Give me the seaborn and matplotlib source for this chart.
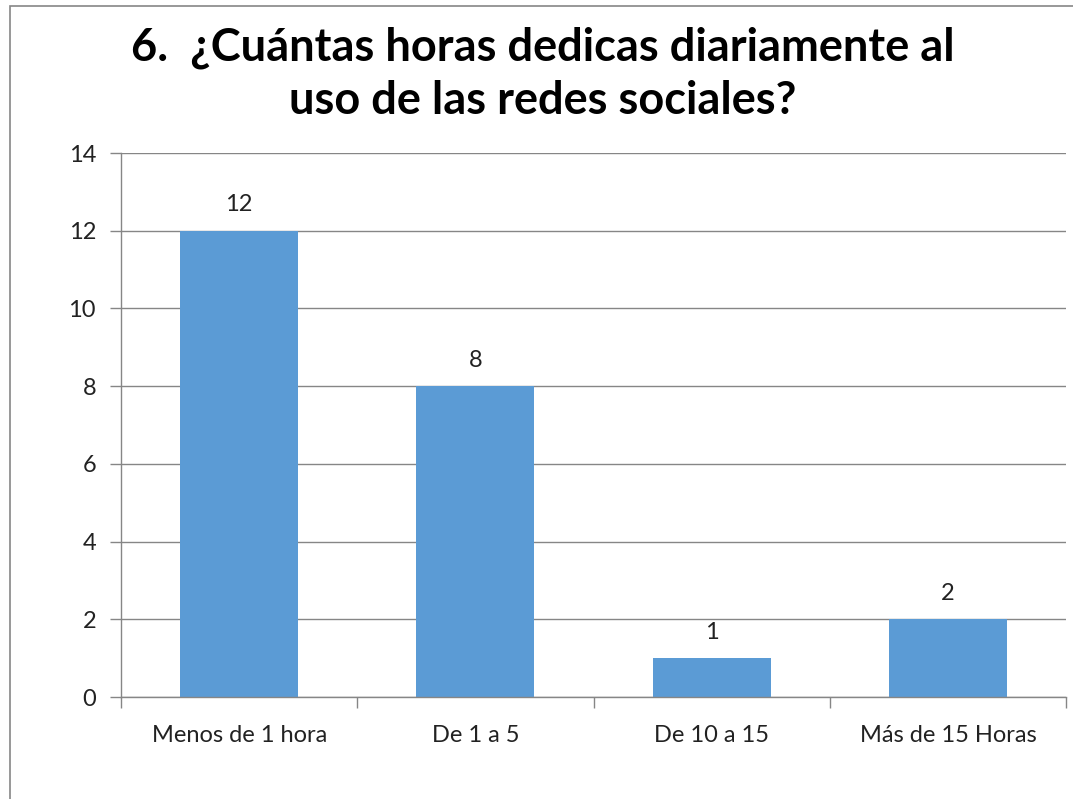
import matplotlib
matplotlib.use("Agg")
import matplotlib.pyplot as plt
import seaborn as sns
import pandas as pd
from matplotlib.patches import Rectangle
from matplotlib.ticker import FixedLocator

categories = ["Menos de 1 hora", "De 1 a 5", "De 10 a 15", "Más de 15 Horas"]
values = [12, 8, 1, 2]
title = "6.  ¿Cuántas horas dedicas diariamente al\nuso de las redes sociales?"

sns.set_theme(style="white")
plt.rcParams['font.family'] = ['Lato', 'DejaVu Sans']

df = pd.DataFrame({"cat": categories, "val": values})

fig = plt.figure(figsize=(10.73, 7.99), dpi=100)
ax = fig.add_axes([121/1073, 1-697/799, (1066-121)/1073, (697-153)/799])

sns.barplot(data=df, x="cat", y="val", color="#5B9BD5", width=0.5, saturation=1,
            linewidth=0, ax=ax)

ax.set_ylim(0, 14)
ax.set_xlim(-0.5, len(categories)-0.5)
ax.set_yticks(range(0, 15, 2))
ax.yaxis.grid(True, color="#868686", linewidth=1)
ax.set_axisbelow(True)
for s in ["top", "right"]:
    ax.spines[s].set_visible(False)
for s in ["left", "bottom"]:
    ax.spines[s].set_color("#868686")
    ax.spines[s].set_linewidth(1)
ax.set_xlabel("")
ax.set_ylabel("")
ax.tick_params(axis="y", which="major", length=8, width=1, color="#868686", left=True, labelsize=17, pad=10, labelcolor="#222222")
ax.tick_params(axis="x", which="major", length=0, labelsize=17, pad=20, labelcolor="#222222")
ax.xaxis.set_minor_locator(FixedLocator([i - 0.5 for i in range(len(categories)+1)]))
ax.tick_params(axis="x", which="minor", length=8, width=1, color="#868686", bottom=True)

for i, v in enumerate(values):
    ax.text(i, v + 0.4, str(v), ha="center", va="bottom", fontsize=17, color="#222222")

fig.text(0.5 + 6/1073, 1-74/799, title, ha="center", va="center", fontsize=32.5, fontweight="bold",
         color="black", linespacing=1.33)

fig.patches.append(Rectangle((10/1073, -0.1), 1.2, 1-6/799 + 0.1, transform=fig.transFigure,
                             fill=False, edgecolor="#868686", linewidth=1.2, figure=fig))

fig.savefig("out.png", dpi=100)
